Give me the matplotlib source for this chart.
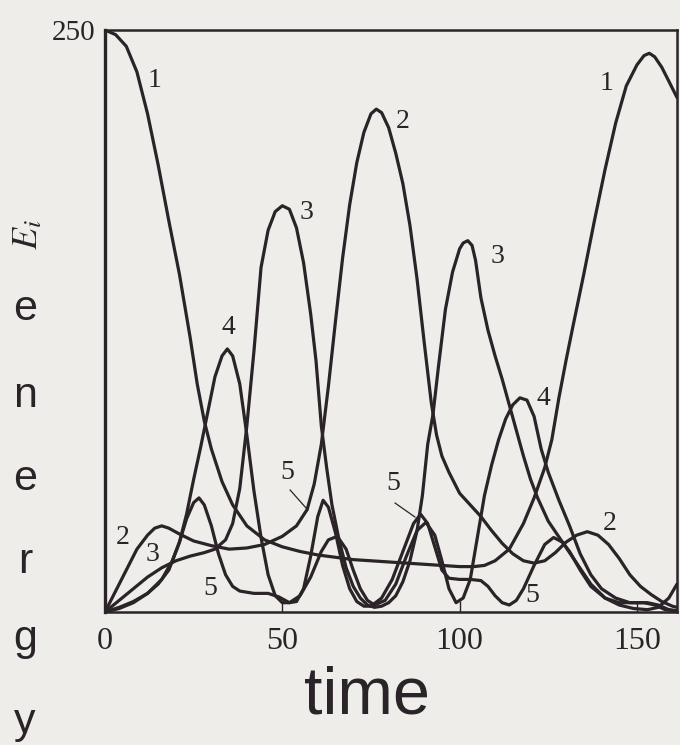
import matplotlib
matplotlib.use("Agg")
import matplotlib.pyplot as plt

# ---------------- data ----------------
t1 = [0, 3, 6, 9, 12, 15, 18, 21, 24, 26, 28, 30, 33, 36, 40, 45, 50, 55, 60, 65, 70, 75, 80, 85,
      90, 95, 100, 104, 107, 110, 114, 118, 121, 124, 126, 128, 130, 132, 135, 138, 141, 144, 147,
      150, 152, 153.5, 155, 157, 159, 161.3]
e1 = [250, 248, 243, 232, 214, 192, 168, 145, 118, 98, 82, 70, 56, 46, 37, 31, 28, 26, 24.5, 23.5,
      22.5, 22, 21.5, 21, 20.5, 20, 19.5, 19.5, 20, 22, 27, 38, 49, 62, 74, 92, 108, 123, 145, 168,
      190, 210, 226, 235, 239, 240, 238.5, 234, 228, 221]

t2 = [0, 3, 6, 9, 12, 14, 16, 18, 21, 25, 30, 35, 40, 45, 50, 54, 57, 59, 61, 63, 65, 67, 69, 71,
      73, 75, 76.5, 78, 80, 82, 84, 86, 88, 90, 92, 93.5, 95, 97, 100, 103, 106, 109, 112, 115, 118,
      121, 124, 127, 130, 133, 136, 139, 142, 145, 148, 151, 154, 157, 160, 161.3]
e2 = [0, 9, 18, 27, 33, 36, 37, 36, 33.5, 30.5, 28.5, 27, 27.5, 29, 32.5, 37, 44, 55, 72, 97, 125,
      152, 175, 193, 206, 214, 216, 214.5, 208, 197, 184, 166, 143, 116, 90, 76, 67, 60, 51, 46, 41,
      35, 29.5, 25, 22, 21, 22, 25.5, 30, 33, 34.5, 33, 29, 23, 16, 11, 7.5, 4.5, 2.5, 2]

t3 = [0, 4, 8, 12, 16, 20, 24, 28, 31, 34, 36, 38, 40, 42, 44, 46, 48, 50, 52, 54, 56, 58, 59.5, 61,
      62.5, 64, 66, 68, 70, 72, 74, 76, 78, 80, 82, 84, 86, 88, 89.5, 91, 92.5, 94, 96, 98, 100, 101,
      102.3, 103.5, 104.5, 106, 108, 110, 112, 114, 116, 118, 120, 122, 125, 129, 133, 137, 141, 145,
      149, 153, 156, 159, 161.3]
e3 = [0, 5, 10, 15, 19, 22, 24, 25.5, 27, 31, 38, 53, 80, 112, 148, 164, 172, 174.5, 173, 165, 150,
      128, 108, 80, 62, 46, 31, 19, 11, 6, 3, 2, 2.5, 4, 7, 13, 22, 35, 50, 72, 85, 105, 130, 146,
      156, 158.5, 159.5, 157.5, 151, 135, 121, 110, 100, 89, 78, 67, 57, 49, 39, 30, 21, 12, 6, 3,
      1.5, 1, 2, 6, 12]

t4 = [0, 4, 8, 12, 15, 18, 21, 23, 25, 27, 29, 31, 33, 34.5, 36, 38, 40, 42, 44, 46, 48, 50, 52, 55,
      58, 61, 63, 65.5, 68, 70, 72, 74, 76, 79, 82, 85, 88, 90.5, 93, 95, 97, 99, 101, 103, 105, 107,
      109, 111, 113, 115, 117, 119, 121, 123, 125, 128, 131, 134, 137, 140, 144, 148, 152, 155, 158,
      161.3]
e4 = [0, 2, 4.5, 8, 12, 18, 30, 42, 57, 71, 86, 101, 110, 113, 110, 98, 76, 52, 32, 16, 7, 4, 4, 7,
      15, 26, 31, 32.5, 27, 18, 10, 5, 3, 5, 12, 24, 35, 38.5, 33, 22, 10, 4, 6, 14, 32, 50, 63, 74,
      83, 89, 92, 91, 84, 70, 60, 48, 37, 25, 16, 10, 6, 4, 4, 3, 1, 0.5]

t5 = [0, 4, 8, 12, 16, 19, 21, 23, 25, 26.5, 28, 30, 32, 34, 36, 38, 42, 46, 49, 52, 54, 56, 58, 60,
      61.5, 63, 65, 67, 69, 71, 73, 75, 78, 81, 84, 87, 89, 91, 93, 95, 97, 100, 103, 106, 108, 110,
      112, 114, 116, 118, 121, 124, 126.5, 129, 131, 134, 137, 141, 145, 149, 153, 156, 159, 161.3]
e5 = [0, 1.5, 4, 8, 14, 22, 30, 40, 47, 49, 46, 37, 25, 16, 11, 9, 8, 8, 6.5, 4, 4.5, 10, 24, 41,
      48, 45, 34, 20, 10, 4.5, 2.5, 2.5, 6, 14, 26, 38, 42, 38, 28, 18, 14.5, 14, 14, 13.5, 11, 7, 4,
      3, 5, 10, 20, 29, 32, 30, 26, 18, 11, 6, 4, 4, 4, 3, 1, 0.5]

series = [(t1, e1), (t2, e2), (t3, e3), (t4, e4), (t5, e5)]

# curve labels: (text, t, E)
curve_labels = ["1", "2", "3", "5", "4", "3", "5", "2", "5", "3", "4", "1", "2", "5"]
label_t = [14.1, 5.1, 13.3, 29.6, 34.7, 56.7, 51.3, 84.0, 81.2, 110.8, 123.5, 141.5, 142.4, 120.4]
label_e = [228.5, 32.2, 24.5, 10.3, 122.4, 171.8, 60.1, 210.5, 55.4, 152.5, 91.9, 227.2, 38.2, 7.3]

# leader lines for the two "5" labels: (t0, E0, t1, E1)
leaders = [(52.2, 52.4, 57.2, 43.8), (81.8, 46.8, 87.4, 40.8)]

xticks = [0, 50, 100, 150]
xtick_labels = ["0", "50", "100", "150"]
yticks = [250]
ytick_labels = ["250"]
xlim = (0, 161.3)
ylim = (0, 250)

# ---------------- drawing ----------------
BG = "#efedea"
INK = "#2a2328"
W, H = 680, 745

fig = plt.figure(figsize=(W / 100, H / 100), dpi=100, facecolor=BG)
ax = fig.add_axes([105 / W, 1 - 612 / H, (677 - 105) / W, (612 - 30) / H])
ax.set_facecolor(BG)

for t, e in series:
    ax.plot(t, e, color=INK, lw=2.3, solid_joinstyle="round", solid_capstyle="round")

serif = ["Liberation Serif", "DejaVu Serif"]
for s, x, y in zip(curve_labels, label_t, label_e):
    ax.text(x, y, s, fontsize=20, family=serif, color=INK, ha="center", va="center")

for (a, b, c, d) in leaders:
    ax.plot([a, c], [b, d], color=INK, lw=0.9)

ax.set_xlim(*xlim)
ax.set_ylim(*ylim)
ax.set_xticks(xticks)
ax.set_xticklabels(xtick_labels, family=serif, fontsize=23, color=INK)
ax.set_yticks(yticks)
ax.set_yticklabels(ytick_labels, family=serif, fontsize=21, color=INK)
ax.tick_params(axis="x", direction="in", length=8, width=1.0, pad=11, colors=INK, top=False)
ax.tick_params(axis="y", length=0, pad=7, colors=INK)
for sp in ax.spines.values():
    sp.set_color(INK)
    sp.set_linewidth(1.8)
ax.spines["left"].set_linewidth(2.4)

sans = ["Liberation Sans", "DejaVu Sans"]

# axis titles
plt.rcParams["mathtext.fontset"] = "stix"
fig.text(27 / W, 1 - 235 / H, r"$E_i$", rotation=90, fontsize=26, color=INK,
         ha="center", va="center")

letters = list("energy")
baselines = [320, 407, 490, 573, 650, 733]
for ch, yb in zip(letters, baselines):
    fig.text(25 / W, 1 - yb / H, ch, fontsize=31, family=sans, color=INK,
             ha="center", va="baseline")

fig.text(367 / W, 1 - 713 / H, "time", fontsize=48, family=sans, color=INK,
         ha="center", va="baseline")

fig.savefig("out.png", dpi=100, facecolor=BG)
